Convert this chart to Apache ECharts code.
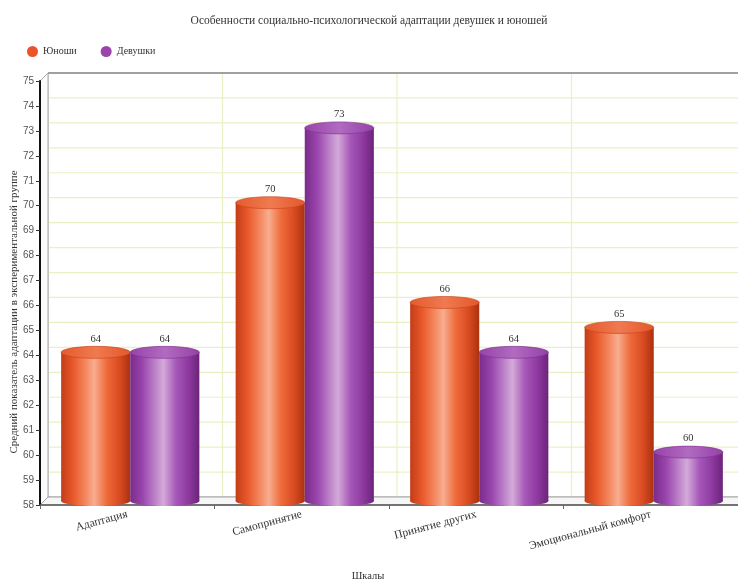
<!DOCTYPE html>
<html>
<head>
<meta charset="utf-8">
<script src="https://cdn.jsdelivr.net/npm/echarts@6/dist/echarts.min.js"></script>
<style>html,body{margin:0;padding:0;background:#fff}#c{width:738px;height:580px}</style>
</head>
<body>
<div id="c"></div>
<script>
var titleText = 'Особенности социально-психологической адаптации девушек и юношей';
var categories = ['Адаптация', 'Самопринятие', 'Принятие других', 'Эмоциональный комфорт'];
var seriesNames = ['Юноши', 'Девушки'];
var boys = [64, 70, 66, 65];
var girls = [64, 73, 64, 60];
var yMin = 58, yMax = 75;
var yName = 'Средний показатель адаптации в экспериментальной группе';
var xName = 'Шкалы';

var SERIF = '"Liberation Serif", "DejaVu Serif", serif';
var D = 8; // 3D depth offset

var palettes = [
  { base: '#e8552a', stops: ['#c33c17', '#ea5a2c', '#f58f68', '#f7ad90', '#ef6a3b', '#d84a20', '#a9320f'], top: ['#e45a2e', '#f07a50', '#e4572b'], stroke: '#c24218' },
  { base: '#9c43ad', stops: ['#7a2c8a', '#9a45ad', '#c089cc', '#d4aad9', '#a658b8', '#8d389f', '#6b2479'], top: ['#9842aa', '#b06bc0', '#9540a8'], stroke: '#7d2f8d' }
];

function grad(stops) {
  var pos = [0, 0.18, 0.38, 0.48, 0.66, 0.85, 1];
  return { type: 'linear', x: 0, y: 0, x2: 1, y2: 0,
    colorStops: stops.map(function (c, i) { return { offset: pos[i], color: c }; }) };
}

function barRender(si) {
  var p = palettes[si];
  return function (params, api) {
    var cat = api.value(0), val = api.value(1);
    var top = api.coord([cat, val]);
    var base = api.coord([cat, yMin]);
    var band = api.size([1, 0])[0];
    var bw = band * 0.396;
    var cx = top[0] + 3;
    var x0 = cx - bw + si * bw;
    var ty = top[1] - 3;
    var by = base[1] - 4;
    var ry = 6;
    return {
      type: 'group',
      children: [
        { type: 'ellipse', shape: { cx: x0 + bw / 2, cy: by, rx: bw / 2, ry: ry - 1 },
          style: { fill: grad(p.stops) } },
        { type: 'rect', shape: { x: x0, y: ty, width: bw, height: by - ty },
          style: { fill: grad(p.stops) } },
        { type: 'ellipse', shape: { cx: x0 + bw / 2, cy: ty, rx: bw / 2, ry: ry },
          style: { fill: { type: 'linear', x: 0, y: 0, x2: 1, y2: 0,
            colorStops: [{ offset: 0, color: p.top[0] }, { offset: 0.5, color: p.top[1] }, { offset: 1, color: p.top[2] }] },
            stroke: p.stroke, lineWidth: 0.6 } },
        { type: 'text', style: { text: String(val), x: x0 + bw / 2, y: ty - ry - 2,
            align: 'center', verticalAlign: 'bottom', font: '10.5px ' + SERIF, fill: '#333' } }
      ]
    };
  };
}

function frameRender(params, api) {
  var cs = params.coordSys;
  var x = cs.x, y = cs.y, w = cs.width, h = cs.height;
  var band = api.size([1, 0])[0];
  var ch = [];
  ch.push({ type: 'rect', shape: { x: x + D, y: y - D, width: w, height: h },
    style: { fill: '#fff', stroke: '#b5b5b5', lineWidth: 1 } });
  for (var v = yMin + 1; v <= yMax; v++) {
    var yy = api.coord([0, v])[1] - D;
    ch.push({ type: 'line', shape: { x1: x + D, y1: yy, x2: x + w + D, y2: yy },
      style: { stroke: '#eaf0c4', lineWidth: 1.2 } });
  }
  for (var k = 1; k < categories.length; k++) {
    var xx = x + k * band + D;
    ch.push({ type: 'line', shape: { x1: xx, y1: y - D, x2: xx, y2: y + h - D },
      style: { stroke: '#eaf0c4', lineWidth: 1.2 } });
  }
  ch.push({ type: 'polygon', shape: { points: [[x, y], [x + D, y - D], [x + D, y + h - D], [x, y + h]] },
    style: { fill: '#fbfbfb', stroke: '#a8a8a8', lineWidth: 1 } });
  ch.push({ type: 'polygon', shape: { points: [[x, y + h], [x + D, y + h - D], [x + w + D, y + h - D], [x + w, y + h]] },
    style: { fill: '#f6f6f6', stroke: '#a0a0a0', lineWidth: 1 } });
  ch.push({ type: 'line', shape: { x1: x + D, y1: y - D, x2: x + w + D, y2: y - D },
    style: { stroke: '#a0a0a0', lineWidth: 2 } });
  return { type: 'group', children: ch };
}

var chart = echarts.init(document.getElementById('c'), null, { renderer: 'canvas' });
chart.setOption({
  animation: false,
  backgroundColor: '#fff',
  title: { text: titleText, left: 'center', top: 10,
    textStyle: { fontFamily: SERIF, fontSize: 11.5, fontWeight: 'normal', color: '#333' } },
  legend: { data: seriesNames, left: 22, top: 41, icon: 'circle', itemWidth: 11, itemHeight: 11, itemGap: 24,
    textStyle: { fontFamily: SERIF, fontSize: 10, color: '#333' } },
  grid: { left: 40, top: 81, width: 698, bottom: 75, containLabel: false, outerBoundsMode: 'none' },
  xAxis: {
    type: 'category', data: categories, boundaryGap: true,
    name: xName, nameLocation: 'middle', nameGap: 66,
    nameTextStyle: { fontFamily: SERIF, fontSize: 10.5, color: '#333', padding: [0, 42, 0, 0] },
    axisLine: { show: true, lineStyle: { color: '#555', width: 1.5 } },
    axisTick: { show: true, length: 4, lineStyle: { color: '#666' } },
    axisLabel: { interval: 0, rotate: 15, margin: 9, fontFamily: SERIF, fontSize: 11.5, color: '#333' },
    splitLine: { show: false }
  },
  yAxis: {
    type: 'value', min: yMin, max: yMax, interval: 1,
    name: yName, nameLocation: 'middle', nameGap: 20, nameMoveOverlap: false,
    nameTextStyle: { fontFamily: SERIF, fontSize: 11, color: '#333', padding: [0, 38, 0, 0] },
    axisLine: { show: true, lineStyle: { color: '#111', width: 2 } },
    axisTick: { show: true, length: 4, lineStyle: { color: '#333' } },
    axisLabel: { fontFamily: '"Liberation Sans", Arial, sans-serif', fontSize: 10, color: '#555', margin: 6 },
    splitLine: { show: false }
  },
  series: [
    { type: 'custom', name: '_frame', silent: true, z: 0, renderItem: frameRender,
      data: [[0, yMin]], encode: { x: 0, y: 1 } },
    { type: 'custom', name: seriesNames[0], z: 3, itemStyle: { color: palettes[0].base },
      renderItem: barRender(0), encode: { x: 0, y: 1 },
      data: boys.map(function (v, i) { return [i, v]; }) },
    { type: 'custom', name: seriesNames[1], z: 3, itemStyle: { color: palettes[1].base },
      renderItem: barRender(1), encode: { x: 0, y: 1 },
      data: girls.map(function (v, i) { return [i, v]; }) }
  ]
});
</script>
</body>
</html>
